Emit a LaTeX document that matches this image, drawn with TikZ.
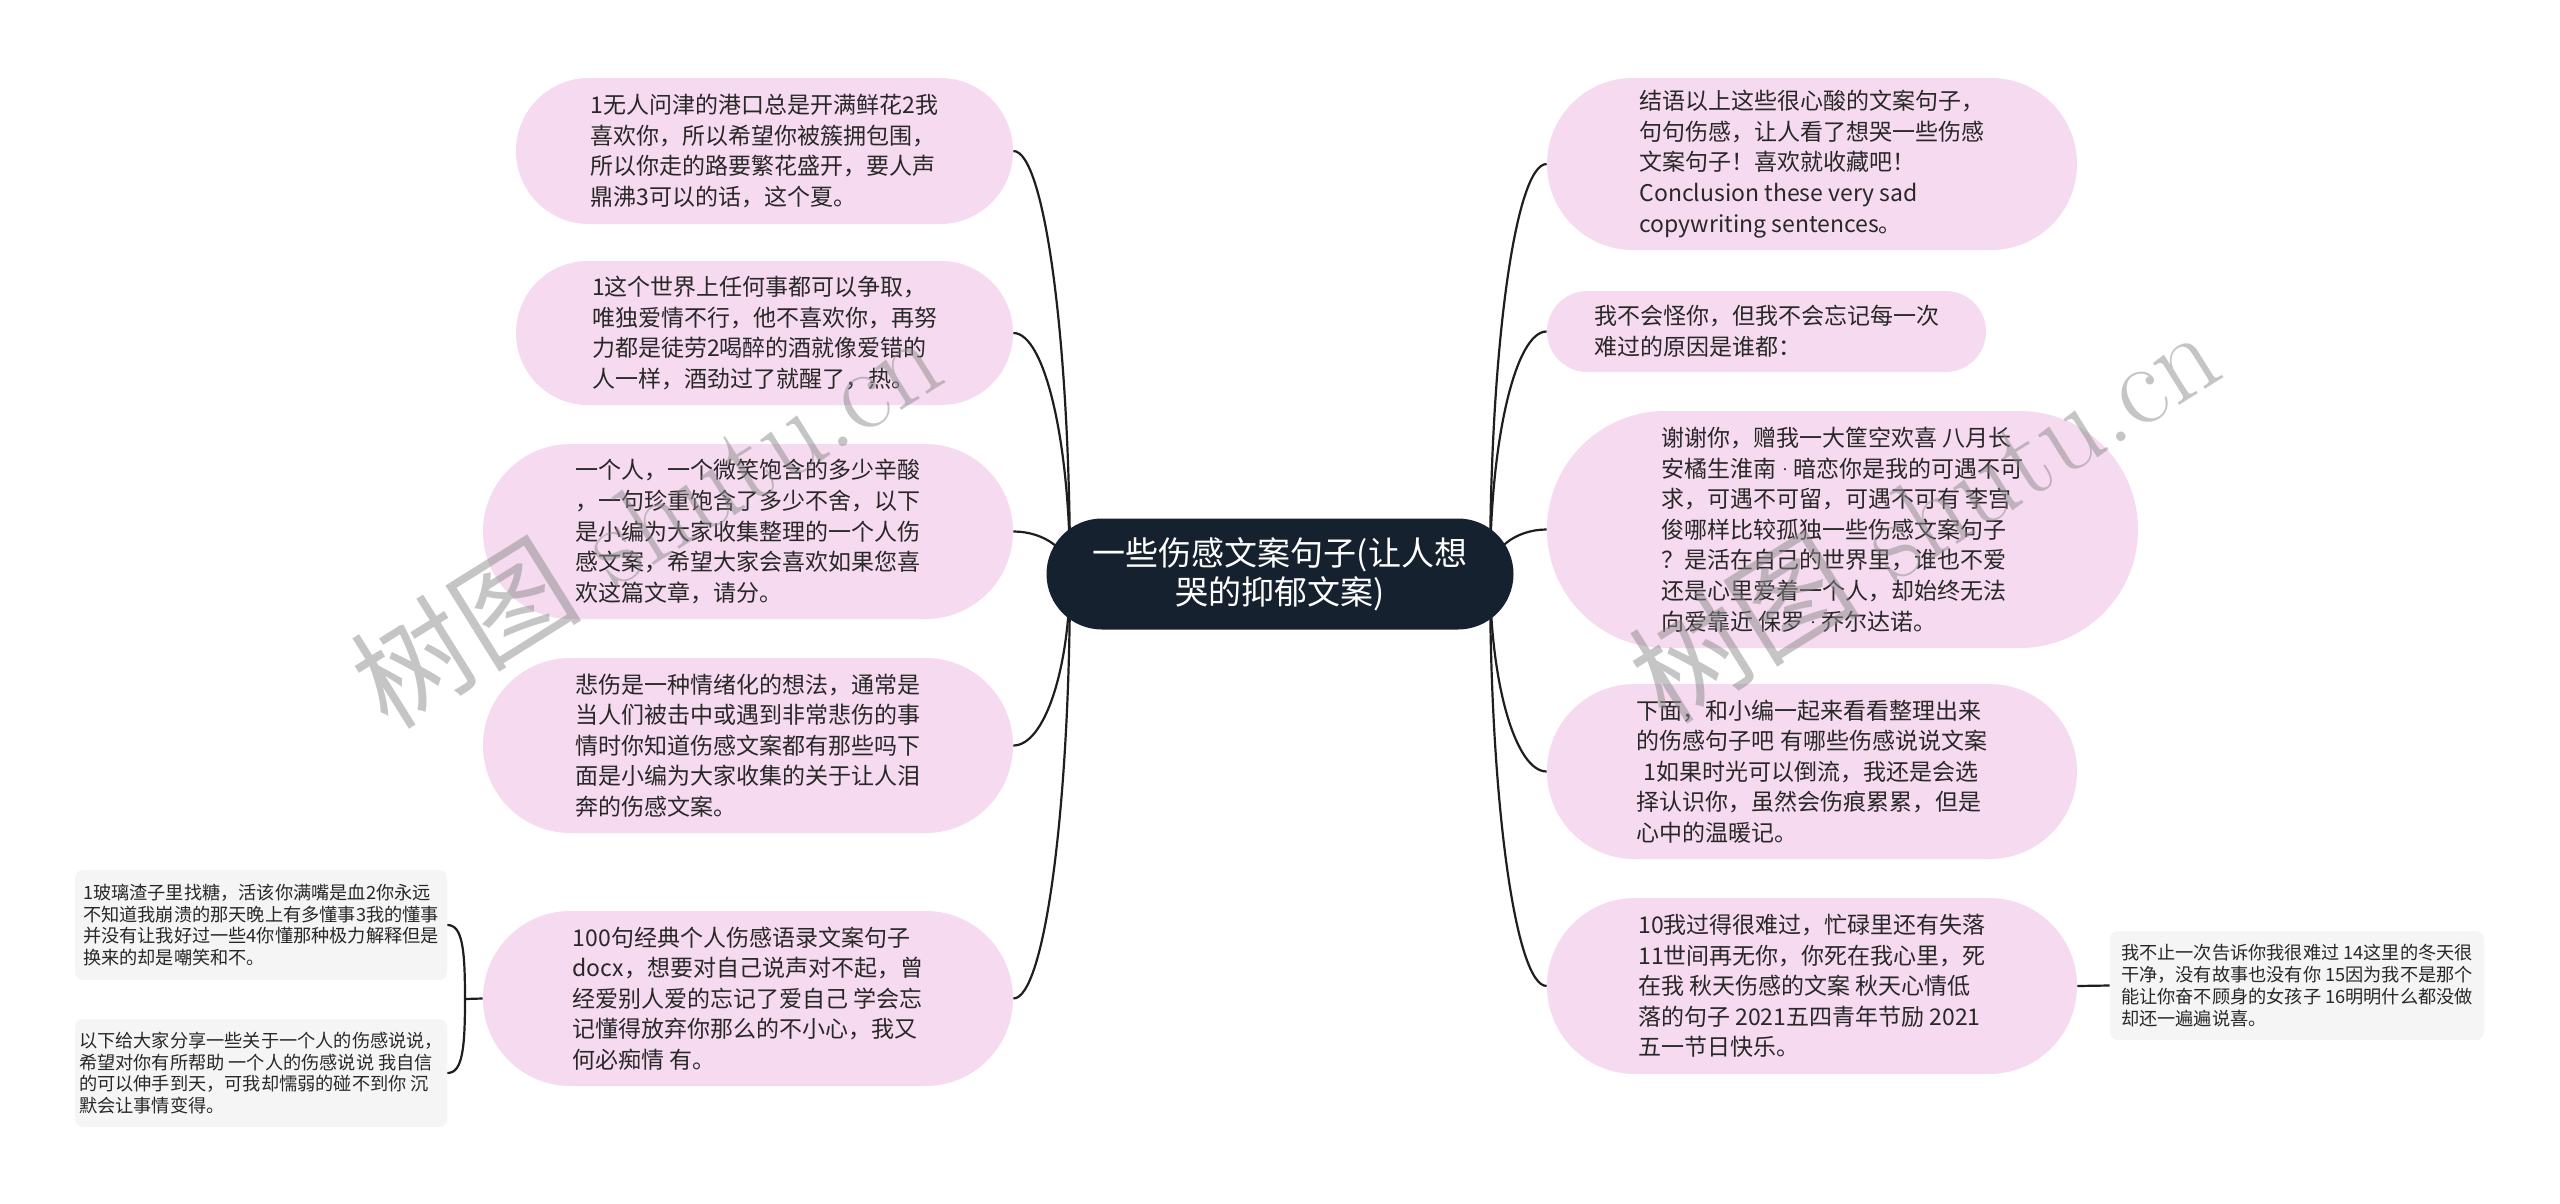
\documentclass[tikz,border=0pt]{standalone}
\usepackage{fontspec}
\newfontfamily\cjk{Noto Sans CJK SC}
\usetikzlibrary{shapes.misc,calc}
\definecolor{pinkfill}{RGB}{246,218,240}
\definecolor{greyfill}{RGB}{245,245,245}
\definecolor{rootfill}{RGB}{22,33,47}
\definecolor{textdark}{RGB}{40,40,40}
\definecolor{linkcol}{RGB}{30,30,30}
\newcommand{\middot}{{\rmfamily\textperiodcentered}}

\begin{document}
\begin{tikzpicture}[x=0.5pt, y=-0.5pt, every node/.style={inner sep=0pt},
	boxsize/.style 2 args={minimum width=#1pt, minimum height=#2pt},
	rootnode/.style={rounded rectangle, fill=rootfill, text=white, align=center, font=\fontsize{16.5}{19.6}\selectfont\cjk},
	pinknode/.style={rounded rectangle, fill=pinkfill, text=textdark, align=left, font=\fontsize{11.5}{15.3}\selectfont\cjk},
	greynode/.style={rectangle, rounded corners=4pt, fill=greyfill, text=textdark, align=left, font=\fontsize{9.1}{10.9}\selectfont\cjk},
	link/.style={draw=linkcol, line width=1.1pt},
	watermark/.style={text=black!45, text opacity=0.5, font=\fontsize{58}{60}\selectfont}]
	\fill[white] (0,0) rectangle (2560,1204);
	\useasboundingbox (0,0) rectangle (2560,1204);
	\coordinate (cl) at (1070,574);
	\coordinate (cr) at (1490,574);
	\coordinate (jl) at (465,999);
	% left branch
	\node[pinknode, boxsize={248.5}{73}] (l1) at (764.5,151) {1无人问津的港口总是开满鲜花2我\\喜欢你，所以希望你被簇拥包围，\\所以你走的路要繁花盛开，要人声\\鼎沸3可以的话，这个夏。};
	\node[pinknode, boxsize={248.5}{72}] (l2) at (764.5,333) {1这个世界上任何事都可以争取，\\唯独爱情不行，他不喜欢你，再努\\力都是徒劳2喝醉的酒就像爱错的\\人一样，酒劲过了就醒了，热。};
	\node[pinknode, boxsize={265}{87.5}] (l3) at (748,531.5) {一个人，一个微笑饱含的多少辛酸\\，一句珍重饱含了多少不舍，以下\\是小编为大家收集整理的一个人伤\\感文案，希望大家会喜欢如果您喜\\欢这篇文章，请分。};
	\node[pinknode, boxsize={265}{87.5}] (l4) at (748,745.5) {悲伤是一种情绪化的想法，通常是\\当人们被击中或遇到非常悲伤的事\\情时你知道伤感文案都有那些吗下\\面是小编为大家收集的关于让人泪\\奔的伤感文案。};
	\node[pinknode, boxsize={265}{87.5}] (l5) at (748,998.5) {100句经典个人伤感语录文案句子\\docx，想要对自己说声对不起，曾\\经爱别人爱的忘记了爱自己 学会忘\\记懂得放弃你那么的不小心，我又\\何必痴情 有。};
	\node[greynode, boxsize={186}{55}] (ll1) at (261,925) {1玻璃渣子里找糖，活该你满嘴是血2你永远\\不知道我崩溃的那天晚上有多懂事3我的懂事\\并没有让我好过一些4你懂那种极力解释但是\\换来的却是嘲笑和不。};
	\node[greynode, boxsize={186}{54}] (ll2) at (261,1073) {以下给大家分享一些关于一个人的伤感说说，\\希望对你有所帮助 一个人的伤感说说 我自信\\的可以伸手到天，可我却懦弱的碰不到你 沉\\默会让事情变得。};
	% right branch
	\node[pinknode, boxsize={265}{86}] (r1) at (1812,164) {结语以上这些很心酸的文案句子，\\句句伤感，让人看了想哭一些伤感\\文案句子！喜欢就收藏吧！\\Conclusion these very sad\\copywriting sentences。};
	\node[pinknode, boxsize={219.5}{40.5}] (r2) at (1766.5,331.5) {我不会怪你，但我不会忘记每一次\\难过的原因是谁都：};
	\node[pinknode, boxsize={295.5}{118.5}] (r3) at (1842.5,529.5) {谢谢你，赠我一大筐空欢喜 八月长\\安橘生淮南\middot 暗恋你是我的可遇不可\\求，可遇不可留，可遇不可有 李宫\\俊哪样比较孤独一些伤感文案句子\\？是活在自己的世界里，谁也不爱\\还是心里爱着一个人，却始终无法\\向爱靠近 保罗\middot 乔尔达诺。};
	\node[pinknode, boxsize={265}{87.5}] (r4) at (1812,771.5) {下面，和小编一起来看看整理出来\\的伤感句子吧 有哪些伤感说说文案\\\hspace{0.3em}1如果时光可以倒流，我还是会选\\择认识你，虽然会伤痕累累，但是\\心中的温暖记。};
	\node[pinknode, boxsize={265}{88}] (r5) at (1812,986) {10我过得很难过，忙碌里还有失落\\11世间再无你，你死在我心里，死\\在我 秋天伤感的文案 秋天心情低\\落的句子 2021五四青年节励 2021\\五一节日快乐。};
	\node[greynode, boxsize={187}{54.5}] (rr1) at (2297,985.5) {我不止一次告诉你我很难过 14这里的冬天很\\干净，没有故事也没有你 15因为我不是那个\\能让你奋不顾身的女孩子 16明明什么都没做\\却还一遍遍说喜。};
	% connectors
	\foreach \n in {l1,l2,l3,l4,l5} {\draw[link] (cl) .. controls ($(cl)!0.55!(cl |- \n.east)$) and ($(\n.east)!0.55!(cl |- \n.east)$) .. (\n.east);}
	\foreach \n in {r1,r2,r3,r4,r5} {\draw[link] (cr) .. controls ($(cr)!0.55!(cr |- \n.west)$) and ($(\n.west)!0.55!(cr |- \n.west)$) .. (\n.west);}
	\draw[link] (l5.west) -- (jl);
	\draw[link] (jl) .. controls +(0,-50) and +(15,0) .. (ll1.east);
	\draw[link] (jl) .. controls +(0,50) and +(15,0) .. (ll2.east);
	\draw[link] (r5.east) -- (rr1.west);
	\node[rootnode, boxsize={233.5}{55.5}] (root) at (1280,574) {一些伤感文案句子(让人想\\哭的抑郁文案)};
	% watermarks
	\node[watermark, rotate=32] (wm1) at (645,519) {{\cjk 树图} shutu.cn};
	\node[watermark, rotate=32] (wm2) at (1923,514) {{\cjk 树图} shutu.cn};
\end{tikzpicture}
\end{document}
